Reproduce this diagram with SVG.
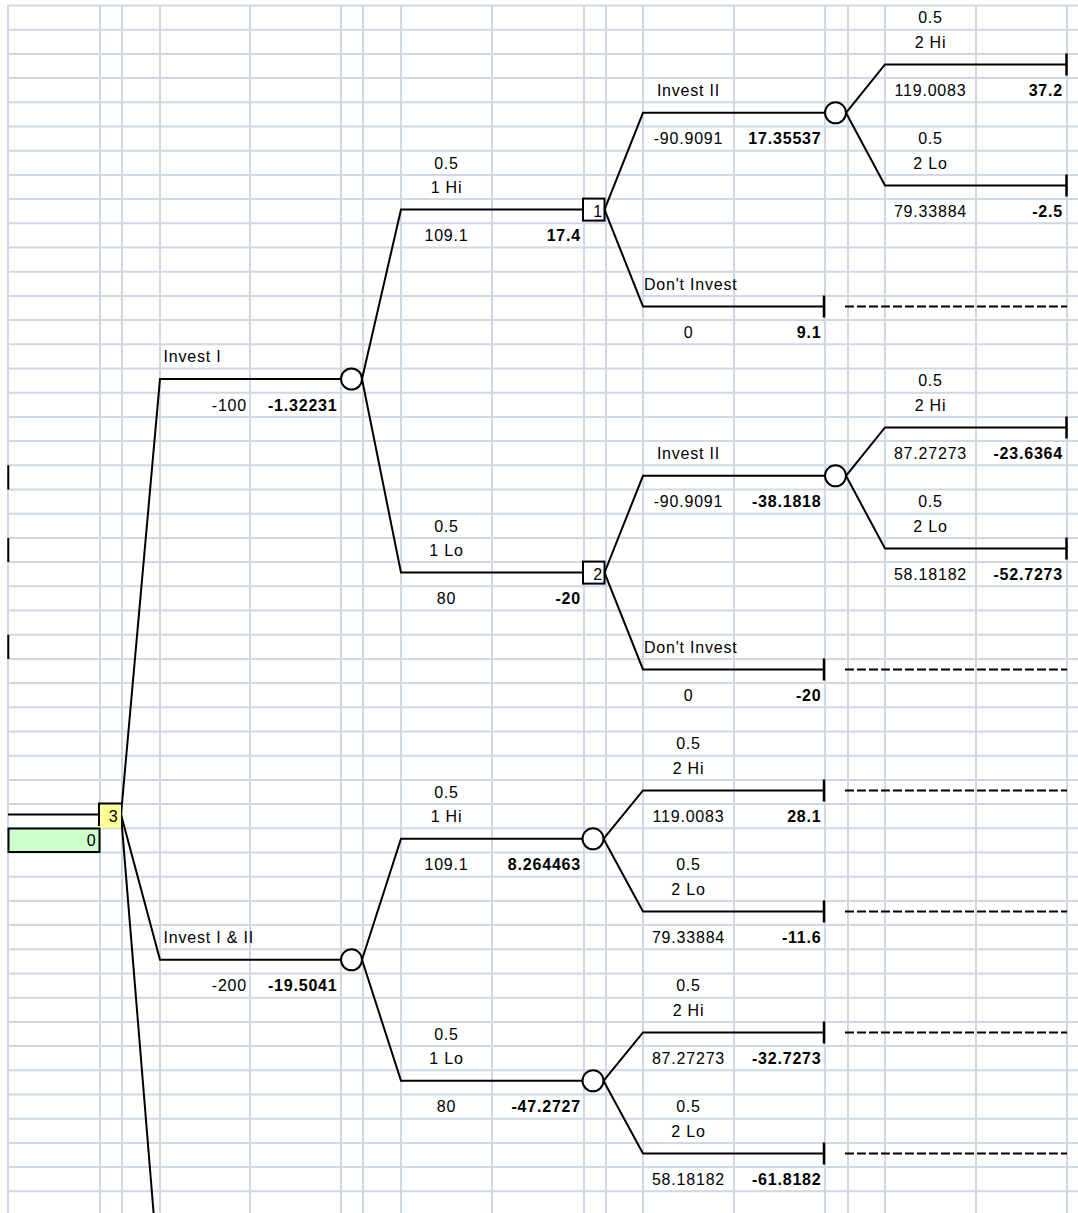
<svg xmlns="http://www.w3.org/2000/svg" width="1078" height="1213" viewBox="0 0 1078 1213">
<style>
text{font-family:"Liberation Sans",Arial,sans-serif;font-size:16px;letter-spacing:0.8px;fill:#000}
.c{text-anchor:middle}
.r{text-anchor:end}
.b{font-weight:bold;text-anchor:end}
.grid{stroke:#d0d7e5;stroke-width:2;fill:none}
.ln{stroke:#000;stroke-width:2;fill:none;stroke-linejoin:miter}
.tk{stroke:#000;stroke-width:2.5;fill:none}
.ds{stroke:#000;stroke-width:2;fill:none;stroke-dasharray:9 3}
.chance{fill:#fff;stroke:#000;stroke-width:2}
.dec{fill:#fff;stroke:#000;stroke-width:2}
</style>
<rect width="1078" height="1213" fill="#fff"/>
<g id="grid" class="grid">
<path d="M8 5V1213M100 5V1213M122 5V1213M160 5V1213M250 5V1213M341 5V1213M363 5V1213M401 5V1213M492 5V1213M584 5V1213M606 5V1213M643 5V1213M734 5V1213M825 5V1213M848 5V1213M885 5V1213M976 5V1213M1067 5V1213"/>
<path d="M8 5.5H1078M8 29.7H1078M8 53.9H1078M8 78.1H1078M8 102.3H1078M8 126.5H1078M8 150.7H1078M8 174.9H1078M8 199.1H1078M8 223.3H1078M8 247.5H1078M8 271.7H1078M8 295.9H1078M8 320.1H1078M8 344.3H1078M8 368.5H1078M8 392.7H1078M8 416.9H1078M8 441.1H1078M8 465.3H1078M8 489.5H1078M8 513.7H1078M8 537.9H1078M8 562.1H1078M8 586.3H1078M8 610.5H1078M8 634.7H1078M8 658.9H1078M8 683.1H1078M8 707.3H1078M8 731.5H1078M8 755.7H1078M8 779.9H1078M8 804.1H1078M8 828.3H1078M8 852.5H1078M8 876.7H1078M8 900.9H1078M8 925.1H1078M8 949.3H1078M8 973.5H1078M8 997.7H1078M8 1021.9H1078M8 1046.1H1078M8 1070.3H1078M8 1094.5H1078M8 1118.7H1078M8 1142.9H1078M8 1167.1H1078M8 1191.3H1078"/>
</g>
<g id="row-marks" stroke="#000" stroke-width="2">
<path d="M8.3 465.3V489.5M8.3 537.9V562.1M8.3 634.7V658.9"/>
</g>
<g id="connectors">
<path class="ln" d="M8 814.6H99"/>
<path class="ln" d="M121 814.6L160 379H341"/>
<path class="ln" d="M121 814.6L160 959.8H341"/>
<path class="ln" d="M121 814.6L153.6 1213"/>
<path class="ln" d="M362 379L401 209.6H583"/>
<path class="ln" d="M362 379L401 572.6H583"/>
<path class="ln" d="M604.5 209.6L643 112.8H825"/>
<path class="ln" d="M604.5 209.6L643 306.4H824"/>
<path class="ln" d="M846 112.8L885 64.4H1066.5"/>
<path class="ln" d="M846 112.8L885 185.4H1066.5"/>
<path class="ln" d="M604.5 572.6L643 475.8H825"/>
<path class="ln" d="M604.5 572.6L643 669.4H824"/>
<path class="ln" d="M846 475.8L885 427.4H1066.5"/>
<path class="ln" d="M846 475.8L885 548.4H1066.5"/>
<path class="ln" d="M362 959.8L401 838.8H582.5"/>
<path class="ln" d="M362 959.8L401 1080.8H582.5"/>
<path class="ln" d="M603.5 838.8L643 790.4H824"/>
<path class="ln" d="M603.5 838.8L643 911.4H824"/>
<path class="ln" d="M603.5 1080.8L643 1032.4H824"/>
<path class="ln" d="M603.5 1080.8L643 1153.4H824"/>
<path class="tk" d="M1066.5 53.4V75.4M1066.5 174.4V196.4M1066.5 416.4V438.4M1066.5 537.4V559.4M824 295.4V317.4M824 658.4V680.4M824 779.4V801.4M824 900.4V922.4M824 1021.4V1043.4M824 1142.4V1164.4"/>
<path class="ds" d="M845 306.4H1067M845 669.4H1067M845 790.4H1067M845 911.4H1067M845 1032.4H1067M845 1153.4H1067"/>
</g>
<g id="root-node">
<rect x="99" y="803.5" width="22" height="24.5" fill="#ffff99"/>
<path d="M99 826V803.5H121" stroke="#000" stroke-width="2" fill="none"/>
<text class="r" x="118.5" y="821.9">3</text>
</g>
<g id="root-value">
<rect x="8.5" y="828.5" width="91" height="23.5" fill="#ccffcc" stroke="#000" stroke-width="2"/>
<text class="r" x="96.5" y="846.1">0</text>
</g>
<g id="chance-a"><circle class="chance" cx="351.5" cy="379" r="10.5"/></g>
<g id="chance-d"><circle class="chance" cx="351.5" cy="959.8" r="10.5"/></g>
<g id="decision-1"><rect class="dec" x="583" y="198.6" width="21.5" height="22"/><text class="r" x="603" y="216.9">1</text></g>
<g id="decision-2"><rect class="dec" x="583" y="561.6" width="21.5" height="22"/><text class="r" x="603" y="579.9">2</text></g>
<g id="chance-b"><circle class="chance" cx="835.5" cy="112.8" r="10.5"/></g>
<g id="chance-c"><circle class="chance" cx="835.5" cy="475.8" r="10.5"/></g>
<g id="chance-e"><circle class="chance" cx="593" cy="838.8" r="10.5"/></g>
<g id="chance-f"><circle class="chance" cx="593" cy="1080.8" r="10.5"/></g>
<g id="labels">
<text class="c" x="930.5" y="23.3">0.5</text>
<text class="c" x="930.5" y="47.5">2 Hi</text>
<text class="c" x="688.5" y="95.9">Invest II</text>
<text class="c" x="930.5" y="95.9">119.0083</text>
<text class="b" x="1063" y="95.9">37.2</text>
<text class="c" x="688.5" y="144.3">-90.9091</text>
<text class="b" x="821.5" y="144.3">17.35537</text>
<text class="c" x="930.5" y="144.3">0.5</text>
<text class="c" x="446.5" y="168.5">0.5</text>
<text class="c" x="930.5" y="168.5">2 Lo</text>
<text class="c" x="446.5" y="192.7">1 Hi</text>
<text class="c" x="930.5" y="216.9">79.33884</text>
<text class="b" x="1063" y="216.9">-2.5</text>
<text class="c" x="446.5" y="241.1">109.1</text>
<text class="b" x="581" y="241.1">17.4</text>
<text x="644" y="289.5">Don't Invest</text>
<text class="c" x="688.5" y="337.9">0</text>
<text class="b" x="821.5" y="337.9">9.1</text>
<text x="163.5" y="362.1">Invest I</text>
<text class="c" x="930.5" y="386.3">0.5</text>
<text class="r" x="247" y="410.5">-100</text>
<text class="b" x="337.5" y="410.5">-1.32231</text>
<text class="c" x="930.5" y="410.5">2 Hi</text>
<text class="c" x="688.5" y="458.9">Invest II</text>
<text class="c" x="930.5" y="458.9">87.27273</text>
<text class="b" x="1063" y="458.9">-23.6364</text>
<text class="c" x="688.5" y="507.3">-90.9091</text>
<text class="b" x="821.5" y="507.3">-38.1818</text>
<text class="c" x="930.5" y="507.3">0.5</text>
<text class="c" x="446.5" y="531.5">0.5</text>
<text class="c" x="930.5" y="531.5">2 Lo</text>
<text class="c" x="446.5" y="555.7">1 Lo</text>
<text class="c" x="930.5" y="579.9">58.18182</text>
<text class="b" x="1063" y="579.9">-52.7273</text>
<text class="c" x="446.5" y="604.1">80</text>
<text class="b" x="581" y="604.1">-20</text>
<text x="644" y="652.5">Don't Invest</text>
<text class="c" x="688.5" y="700.9">0</text>
<text class="b" x="821.5" y="700.9">-20</text>
<text class="c" x="688.5" y="749.3">0.5</text>
<text class="c" x="688.5" y="773.5">2 Hi</text>
<text class="c" x="446.5" y="797.7">0.5</text>
<text class="c" x="446.5" y="821.9">1 Hi</text>
<text class="c" x="688.5" y="821.9">119.0083</text>
<text class="b" x="821.5" y="821.9">28.1</text>
<text class="c" x="446.5" y="870.3">109.1</text>
<text class="b" x="581" y="870.3">8.264463</text>
<text class="c" x="688.5" y="870.3">0.5</text>
<text class="c" x="688.5" y="894.5">2 Lo</text>
<text x="163.5" y="942.9">Invest I &amp; II</text>
<text class="c" x="688.5" y="942.9">79.33884</text>
<text class="b" x="821.5" y="942.9">-11.6</text>
<text class="r" x="247" y="991.3">-200</text>
<text class="b" x="337.5" y="991.3">-19.5041</text>
<text class="c" x="688.5" y="991.3">0.5</text>
<text class="c" x="688.5" y="1015.5">2 Hi</text>
<text class="c" x="446.5" y="1039.7">0.5</text>
<text class="c" x="446.5" y="1063.9">1 Lo</text>
<text class="c" x="688.5" y="1063.9">87.27273</text>
<text class="b" x="821.5" y="1063.9">-32.7273</text>
<text class="c" x="446.5" y="1112.3">80</text>
<text class="b" x="581" y="1112.3">-47.2727</text>
<text class="c" x="688.5" y="1112.3">0.5</text>
<text class="c" x="688.5" y="1136.5">2 Lo</text>
<text class="c" x="688.5" y="1184.9">58.18182</text>
<text class="b" x="821.5" y="1184.9">-61.8182</text>
</g>
</svg>
